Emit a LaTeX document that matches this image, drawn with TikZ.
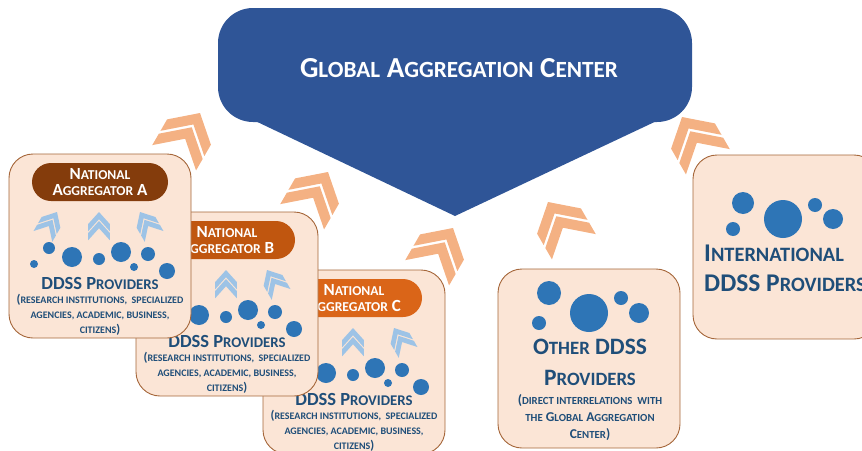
\documentclass[tikz,border=0pt]{standalone}
\usepackage{fontspec}
\setmainfont{Carlito}
\usepackage{xcolor}

\definecolor{gacblue}{HTML}{2F5597}
\definecolor{dotblue}{HTML}{2E75B6}
\definecolor{txtblue}{HTML}{1F4E79}
\definecolor{chevblue}{HTML}{9DC3E6}
\definecolor{chevpeach}{HTML}{F4B183}
\definecolor{boxfill}{HTML}{FBE5D6}
\definecolor{boxline}{HTML}{A5663A}
\definecolor{natA}{HTML}{843C0C}
\definecolor{natB}{HTML}{C0560F}
\definecolor{natC}{HTML}{DA6518}

% small caps by hand
\newcommand{\sm}[1]{\scalebox{0.8}{\MakeUppercase{#1}}}
% two stacked chevrons, apex at (#1,#2)
\newcommand{\chevpair}[5]{%
  \begin{scope}[shift={(#1,#2)}, rotate=#3, #4]
    \fill[#5] (-1,1) -- (0,0) -- (1,1) -- (1,1.6) -- (0,0.6) -- (-1,1.6) -- cycle;
    \fill[#5] (-1,1.75) -- (0,0.75) -- (1,1.75) -- (1,2.35) -- (0,1.35) -- (-1,2.35) -- cycle;
  \end{scope}}

\begin{document}
\begin{tikzpicture}[x=1pt, y=-1pt,
  provbox/.style={fill=boxfill, draw=boxline, line width=0.9pt, rounded corners=24pt},
  labtext/.style={text=white, font=\bfseries\fontsize{17}{16.5}\selectfont, align=center, inner sep=0pt},
  provtext/.style={text=txtblue, font=\bfseries\fontsize{18.5}{22}\selectfont, align=center, inner sep=0pt},
  notetext/.style={text=txtblue, font=\bfseries\fontsize{12.5}{15}\selectfont, align=center, inner sep=0pt}
]
\useasboundingbox (0,0) rectangle (862,450);
\clip (0,0) rectangle (862,450);

% chevrons towards the centre
\chevpair{200}{113}{-30}{scale=22, xscale=1.15}{chevpeach}
\chevpair{328}{172}{-30}{scale=22, xscale=1.15}{chevpeach}
\chevpair{453}{228}{-30}{scale=22, xscale=1.15}{chevpeach}
\chevpair{548}{202}{30}{scale=22, xscale=1.15}{chevpeach}
\chevpair{682}{117}{30}{scale=22, xscale=1.15}{chevpeach}

% global aggregation center
\fill[gacblue, rounded corners=35pt] (218,8) rectangle (692,122);
\fill[gacblue] (249,118) -- (663,118) -- (455,216) -- cycle;
\node[text=white, font=\bfseries\fontsize{29}{30}\selectfont] (gac) at (459,68) {G\sm{lobal} A\sm{ggregation} C\sm{enter}};

% national aggregators, back to front
\foreach \k/\dx/\dy/\col in {C/254/116/natC, B/127/58/natB, A/0/0/natA} {
\begin{scope}[shift={(\dx,\dy)}]
  \draw[provbox] (9,154) rectangle (191,338);
  \fill[\col, rounded corners=19pt] (32,163) rectangle (168,201);
  \node[labtext] (nat\k) at (100,182) {N\sm{ational}\\A\sm{ggregator} \k};
  \chevpair{57}{212}{-30}{scale=12, xscale=0.9}{chevblue}
  \chevpair{99}{212}{0}{scale=12, xscale=0.9}{chevblue}
  \chevpair{140}{212}{30}{scale=12, xscale=0.9}{chevblue}
  \foreach \cx/\cy/\r in {49/248/6, 72/257/10, 34/264/4, 99/259/6, 121/252/10, 148/254/7, 134/267/4, 167/271/8}
    \fill[dotblue] (\cx,\cy) circle[radius=\r pt];
  \node[provtext] (prov\k) at (100,283) {DDSS P\sm{roviders}};
  \node[notetext] (note\k) at (100,315) {(\sm{research institutions,\ \ specialized}\\\sm{agencies, academic, business,}\\\sm{citizens})};
\end{scope}
}

% other providers
\draw[provbox] (498,269) rectangle (680,448);
\foreach \cx/\cy/\r in {549/293/12, 539/323/7, 589/313/19, 621/298/7, 639/313/10}
  \fill[dotblue] (\cx,\cy) circle[radius=\r pt];
\node[provtext, font=\bfseries\fontsize{23.5}{31}\selectfont] (other) at (590,362) {O\sm{ther} DDSS\\P\sm{roviders}};
\node[notetext, font=\bfseries\fontsize{13.5}{17}\selectfont] (othernote) at (590,418) {(\sm{direct interrelations\ \ with}\\\sm{the} G\sm{lobal} A\sm{ggregation}\\C\sm{enter})};

% international providers
\draw[provbox] (693,155) rectangle (878,339);
\foreach \cx/\cy/\r in {743/203/11, 733/229/7, 783/219/19, 815/205/7, 833/219/10}
  \fill[dotblue] (\cx,\cy) circle[radius=\r pt];
\node[provtext, font=\bfseries\fontsize{25.5}{30}\selectfont, align=left, anchor=west] (intl) at (704,268) {I\sm{nternational}\\DDSS P\sm{roviders}};
\end{tikzpicture}
\end{document}
